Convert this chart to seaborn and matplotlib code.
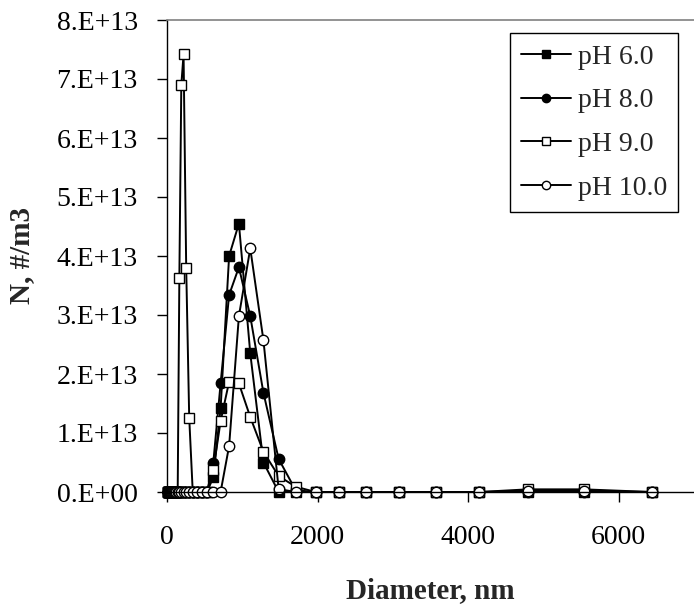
import matplotlib
matplotlib.use("Agg")
import matplotlib.pyplot as plt
import seaborn as sns

# Particle diameter bins (nm)
diameters = [14, 16, 18, 21, 24, 28, 33, 38, 44, 51,
             59, 68, 79, 91, 106, 123, 142, 164, 190, 220,
             255, 295, 342, 396, 459, 531, 615, 712, 825, 955,
             1106, 1281, 1483, 1709, 1974, 2278, 2649, 3086, 3576, 4146,
             4795, 5536, 6437]

# Number concentrations, units of 1e13 #/m3
ph6 = [0, 0, 0, 0, 0, 0, 0, 0, 0, 0,
       0, 0, 0, 0, 0, 0, 0, 0, 0, 0,
       0, 0, 0, 0, 0, 0, 0.25, 1.42, 4.0, 4.55,
       2.35, 0.5, 0, 0, 0, 0, 0, 0, 0, 0,
       0, 0, 0]
ph8 = [0, 0, 0, 0, 0, 0, 0, 0, 0, 0,
       0, 0, 0, 0, 0, 0, 0, 0, 0, 0,
       0, 0, 0, 0, 0, 0, 0.5, 1.84, 3.34, 3.81,
       2.98, 1.68, 0.56, 0.03, 0, 0, 0, 0, 0, 0,
       0, 0, 0]
ph9 = [0, 0, 0, 0, 0, 0, 0, 0, 0, 0,
       0, 0, 0, 0, 0, 0, 0, 3.62, 6.9, 7.42,
       3.8, 1.26, 0, 0, 0, 0, 0.37, 1.2, 1.87, 1.84,
       1.27, 0.68, 0.27, 0.09, 0, 0, 0, 0, 0, 0,
       0.045, 0.045, 0]
ph10 = [0, 0, 0, 0, 0, 0, 0, 0, 0, 0,
        0, 0, 0, 0, 0, 0, 0, 0, 0, 0,
        0, 0, 0, 0, 0, 0, 0, 0, 0.78, 2.98,
        4.13, 2.57, 0.05, 0, 0, 0, 0, 0, 0, 0,
        0.02, 0.02, 0]

series_labels = ["pH 6.0", "pH 8.0", "pH 9.0", "pH 10.0"]
y_ticks = [0, 1e13, 2e13, 3e13, 4e13, 5e13, 6e13, 7e13, 8e13]
y_tick_labels = ["0.E+00", "1.E+13", "2.E+13", "3.E+13", "4.E+13",
                 "5.E+13", "6.E+13", "7.E+13", "8.E+13"]
x_ticks = [0, 2000, 4000, 6000]

sns.set_style("ticks")
plt.rcParams['font.family'] = ['Liberation Serif', 'DejaVu Serif']

fig = plt.figure(figsize=(6.94, 6.09), dpi=100)
ax = fig.add_axes([167 / 694, 117 / 609, 527 / 694, 472 / 609])

marker_styles = [("s", "black", 7.0), ("o", "black", 7.5),
                 ("s", "white", 7.0), ("o", "white", 7.5)]
for vals, label, (m, fc, ms) in zip([ph6, ph8, ph9, ph10], series_labels, marker_styles):
    sns.lineplot(x=diameters, y=[v * 1e13 for v in vals], ax=ax,
                 color="black", linewidth=1.4, marker=m, markersize=ms,
                 markerfacecolor=fc, markeredgecolor="black",
                 markeredgewidth=1.0, label=label, sort=False,
                 errorbar=None, clip_on=False)

ax.set_xlim(0, 7000)
ax.set_ylim(0, 8e13)
ax.set_xticks(x_ticks)
ax.set_xticklabels([str(t) for t in x_ticks])
ax.set_yticks(y_ticks)
ax.set_yticklabels(y_tick_labels)

ax.spines['right'].set_visible(False)
ax.spines['top'].set_color('#808080')
ax.spines['top'].set_linewidth(1.2)
for s in ['left', 'bottom']:
    ax.spines[s].set_color('black')
    ax.spines[s].set_linewidth(1.0)

ax.tick_params(axis='both', direction='out', length=7, width=1.0,
               color='black', labelsize=20, labelcolor='black')
ax.tick_params(axis='x', pad=17)
ax.tick_params(axis='y', pad=14)

ax.set_xlabel("Diameter, nm", fontsize=21, fontweight='bold')
ax.xaxis.set_label_coords(0.5, -0.18)
ax.set_ylabel("N, #/m3", fontsize=21, fontweight='bold')
ax.yaxis.set_label_coords(-0.25, 0.5)

leg = ax.legend(loc="upper right", bbox_to_anchor=(0.9697, 0.9725),
                borderaxespad=0, frameon=True, fancybox=False,
                edgecolor="black", framealpha=1, fontsize=20,
                handlelength=1.8, handletextpad=0.25, labelspacing=0.66,
                borderpad=0.4, markerscale=0.8)
leg.get_frame().set_linewidth(1.0)

fig.savefig("out.png", dpi=100)
